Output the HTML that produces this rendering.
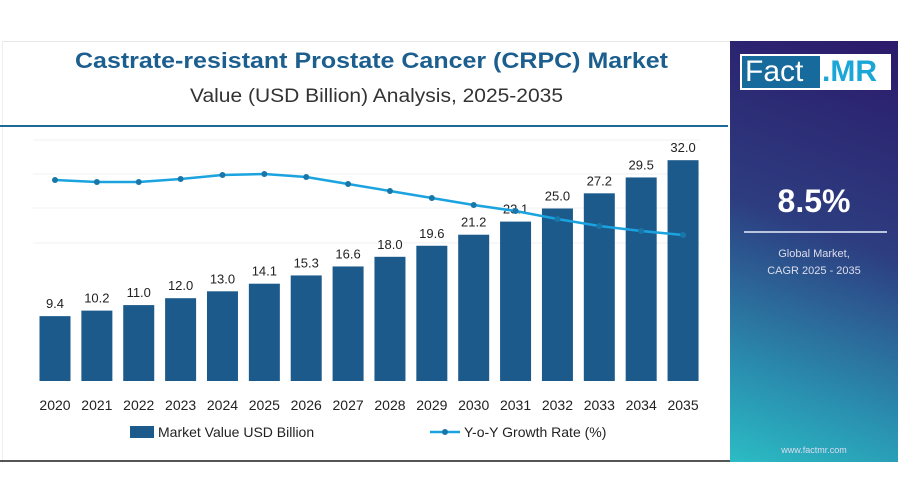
<!DOCTYPE html>
<html><head><meta charset="utf-8"><style>
body{margin:0;width:900px;height:504px;background:#fff;overflow:hidden;font-family:"Liberation Sans",sans-serif}
.panel{position:absolute;left:730px;top:41px;width:168px;height:421px;background:linear-gradient(200deg,#2c1a6a 0%,#2d3d80 45%,#2a8fb0 80%,#2bbcc4 100%)}
</style></head><body>
<div style="position:absolute;left:2px;top:41px;width:728px;height:421px;border-top:1px solid #e6e6e6;border-left:1px solid #eee"></div>
<div style="position:absolute;left:0;top:460px;width:730px;height:2px;background:#555"></div>
<svg width="730" height="504" style="position:absolute;left:0;top:0">
<text x="75" y="68" font-size="22" font-weight="bold" fill="#1c5f8f" textLength="593" lengthAdjust="spacingAndGlyphs">Castrate-resistant Prostate Cancer (CRPC) Market</text>
<text x="190" y="102" font-size="19" fill="#333" textLength="373" lengthAdjust="spacingAndGlyphs">Value (USD Billion) Analysis, 2025-2035</text>
<line x1="0" y1="126" x2="728" y2="126" stroke="#1c6a9a" stroke-width="2"/>
<g stroke="#f0f0f0"><line x1="33" y1="140" x2="700" y2="140"/><line x1="33" y1="174" x2="700" y2="174"/><line x1="33" y1="208" x2="700" y2="208"/><line x1="33" y1="243" x2="700" y2="243"/></g>
<g fill="#1c5a8c" id="b"></g>
<g font-size="13" fill="#222" text-anchor="middle" id="t"></g>
<polyline id="l" fill="none" stroke="#1aa3df" stroke-width="2.5"/>
<g id="d" fill="#1877a8"></g>
<rect x="130" y="426" width="24" height="12" fill="#1c5a8c"/>
<text x="158" y="437" font-size="14" fill="#222">Market Value USD Billion</text>
<line x1="430" y1="432" x2="460" y2="432" stroke="#1aa3df" stroke-width="2.5"/><circle cx="445" cy="432" r="3" fill="#1877a8"/>
<text x="464" y="437" font-size="14" fill="#222">Y-o-Y Growth Rate (%)</text>
</svg>
<div class="panel">
<div style="position:absolute;left:10px;top:13px;width:151px;height:36px;background:#fff"></div>
<div style="position:absolute;left:12px;top:15px;width:78px;height:32px;background:#176a9c"></div>
<div style="position:absolute;left:15px;top:13px;font-size:30px;color:#fff;line-height:36px">Fact</div>
<div style="position:absolute;left:92px;top:13px;font-size:30px;color:#1aa6d6;font-weight:bold;line-height:36px">.MR</div>
<div style="position:absolute;left:0;width:168px;top:142px;text-align:center;color:#fff;font-size:32px;font-weight:bold">8.5%</div>
<div style="position:absolute;left:14px;top:190px;width:143px;height:2px;background:#b8c4e0"></div>
<div style="position:absolute;left:0;width:168px;top:205px;text-align:center;color:#dde;font-size:11px;line-height:17px">Global Market,<br>CAGR 2025 - 2035</div>
<div style="position:absolute;left:0;width:168px;top:404px;text-align:center;color:#dde;font-size:9px">www.factmr.com</div>
</div>
<script>
var v=[9.4,10.2,11.0,12.0,13.0,14.1,15.3,16.6,18.0,19.6,21.2,23.1,25.0,27.2,29.5,32.0];
var ly=[180,182,182,179,175,174,177,184,191,198,205,211,219,226,231,235];
var ns="http://www.w3.org/2000/svg",b=document.getElementById('b'),t=document.getElementById('t'),d=document.getElementById('d'),pts=[];
v.forEach(function(x,i){var cx=55+i*41.87,h=x*6.9;
var r=document.createElementNS(ns,'rect');r.setAttribute('x',cx-15.5);r.setAttribute('y',381-h);r.setAttribute('width',31);r.setAttribute('height',h);b.appendChild(r);
var a=document.createElementNS(ns,'text');a.setAttribute('x',cx);a.setAttribute('y',381-h-8);a.textContent=x.toFixed(1);t.appendChild(a);
var y=document.createElementNS(ns,'text');y.setAttribute('x',cx);y.setAttribute('y',410);y.setAttribute('font-size','14');y.textContent=2020+i;t.appendChild(y);
pts.push(cx+','+ly[i]);var c=document.createElementNS(ns,'circle');c.setAttribute('cx',cx);c.setAttribute('cy',ly[i]);c.setAttribute('r',3);d.appendChild(c);});
document.getElementById('l').setAttribute('points',pts.join(' '));
</script>
</body></html>
